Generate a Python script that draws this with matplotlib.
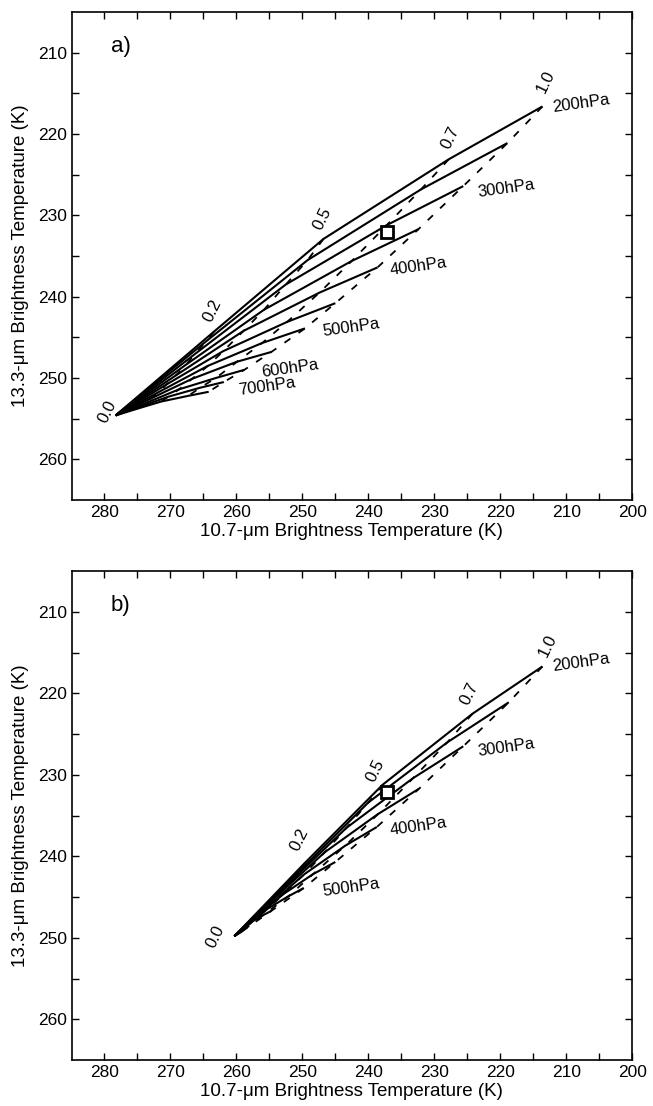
import numpy as np
import matplotlib
matplotlib.use("Agg")
import matplotlib.pyplot as plt

plt.rcParams['font.family'] = ['Liberation Sans', 'DejaVu Sans']

# emissivities of the points stored for every curve (0.0 is the clear-sky point)
eps = [0.2, 0.5, 0.7, 1.0]

# ---- panel a: clear-sky point and curves for each cloud-top pressure (hPa)
a_origin = (278.3, 254.6)
a_x = {
    200: [263.4, 246.8, 227.8, 213.6],
    250: [264.6, 249.2, 232.0, 218.9],
    300: [266.2, 252.5, 237.2, 225.6],
    350: [267.7, 255.8, 242.5, 232.4],
    400: [269.2, 258.9, 247.4, 238.6],
    450: [270.6, 262.0, 252.3, 245.0],
    500: [271.7, 264.3, 256.1, 249.6],
    550: [272.9, 266.7, 259.9, 254.7],
    600: [273.8, 268.7, 263.1, 258.8],
    650: [274.5, 270.3, 265.5, 261.9],
    700: [275.1, 271.4, 267.3, 264.2],
}
a_y = {
    200: [244.3, 232.9, 223.1, 216.6],
    250: [245.5, 235.5, 226.8, 221.1],
    300: [247.0, 238.5, 231.2, 226.4],
    350: [248.4, 241.6, 235.6, 231.7],
    400: [249.7, 244.2, 239.5, 236.4],
    450: [250.8, 246.7, 243.1, 240.8],
    500: [251.7, 248.5, 245.7, 243.9],
    550: [252.5, 250.1, 248.0, 246.8],
    600: [253.1, 251.4, 250.0, 249.0],
    650: [253.5, 252.3, 251.2, 250.5],
    700: [253.8, 252.9, 252.2, 251.7],
}
a_eps_pos = {"0.0": (279.5, 254.1), "0.2": (263.7, 241.7), "0.5": (247.0, 230.4),
             "0.7": (227.5, 220.5), "1.0": (213.1, 213.6)}
a_plabels = [200, 300, 400, 500, 600, 700]

# ---- panel b: colder clear-sky point
b_origin = (260.3, 249.8)
b_x = {
    200: [249.6, 237.8, 224.2, 213.6],
    250: [250.8, 240.0, 228.0, 218.7],
    300: [252.3, 243.3, 233.2, 225.6],
    350: [253.9, 246.6, 238.5, 232.3],
    400: [255.3, 249.7, 243.5, 238.7],
    450: [256.8, 252.8, 248.4, 245.0],
    500: [257.9, 255.2, 252.1, 249.8],
    550: [259.0, 257.6, 255.9, 254.7],
    600: [259.9, 259.5, 259.1, 258.8],
}
b_y = {
    200: [240.8, 231.2, 222.5, 216.7],
    250: [242.1, 233.4, 226.0, 221.1],
    300: [243.5, 236.5, 230.4, 226.5],
    350: [244.9, 239.5, 234.8, 231.7],
    400: [246.2, 242.2, 238.7, 236.4],
    450: [247.3, 244.6, 242.2, 240.7],
    500: [248.2, 246.4, 244.9, 243.9],
    550: [249.0, 248.0, 247.2, 246.7],
    600: [249.6, 249.4, 249.2, 249.0],
}
b_eps_pos = {"0.0": (263.2, 249.9), "0.2": (250.4, 237.9), "0.5": (239.0, 229.5),
             "0.7": (224.6, 220.0), "1.0": (212.8, 214.1)}
b_plabels = [200, 300, 400, 500]

# pressure label anchors (left edge, vertical centre)
p_lab_x = {200: 212.3, 300: 223.6, 400: 236.8, 500: 247.0, 600: 256.3, 700: 259.8}
p_lab_y = {200: 216.2, 300: 226.7, 400: 236.3, 500: 243.8, 600: 248.8, 700: 251.1}

# observed pixel (open square)
obs_x, obs_y = 237.2, 232.1


def draw_panel(ax, origin, cx, cy, eps_pos, plabels, tag):
    # solid curves: emissivity 0 -> 1 for one cloud level
    for p in cx:
        ax.plot([origin[0]] + cx[p], [origin[1]] + cy[p], color='black',
                lw=1.5, solid_joinstyle='miter', solid_capstyle='butt')
    # dashed curves: same emissivity across cloud levels
    for k in range(len(eps)):
        ax.plot([cx[p][k] for p in cx], [cy[p][k] for p in cy], color='black',
                lw=1.3, dashes=(4, 5.5))
    for s, (x, y) in eps_pos.items():
        ax.text(x, y, s, rotation=64, fontsize=12, ha='center', va='center')
    for p in plabels:
        ax.text(p_lab_x[p], p_lab_y[p], f"{p}hPa", rotation=8, fontsize=12,
                ha='left', va='center')
    ax.plot(obs_x, obs_y, marker='s', ms=8, mfc='white', mec='black', mew=2,
            ls='none', zorder=5)
    ax.text(0.07, 0.93, tag, transform=ax.transAxes, fontsize=16,
            ha='left', va='center')

    ax.set_xlim(285, 200)
    ax.set_ylim(265, 205)
    ax.set_xticks(np.arange(200, 281, 10))
    ax.set_xticks(np.arange(205, 285, 10), minor=True)
    ax.set_yticks(np.arange(210, 261, 10))
    ax.set_yticks(np.arange(215, 265, 10), minor=True)
    ax.tick_params(which='both', direction='in', top=True, right=True,
                   labelsize=12.5, width=1.0, length=5)
    for sp in ax.spines.values():
        sp.set_linewidth(1.2)
    ax.set_xlabel("10.7-\u03bcm Brightness Temperature (K)", fontsize=13.5, labelpad=2)
    ax.set_ylabel("13.3-\u03bcm Brightness Temperature (K)", fontsize=13.5, labelpad=6)


fig = plt.figure(figsize=(6.53, 11.06), dpi=100)
ax1 = fig.add_axes([0.1095, 0.548, 0.8585, 0.441])
ax2 = fig.add_axes([0.1095, 0.0416, 0.8585, 0.442])

draw_panel(ax1, a_origin, a_x, a_y, a_eps_pos, a_plabels, "a)")
draw_panel(ax2, b_origin, b_x, b_y, b_eps_pos, b_plabels, "b)")

fig.savefig("out.png", dpi=100)
